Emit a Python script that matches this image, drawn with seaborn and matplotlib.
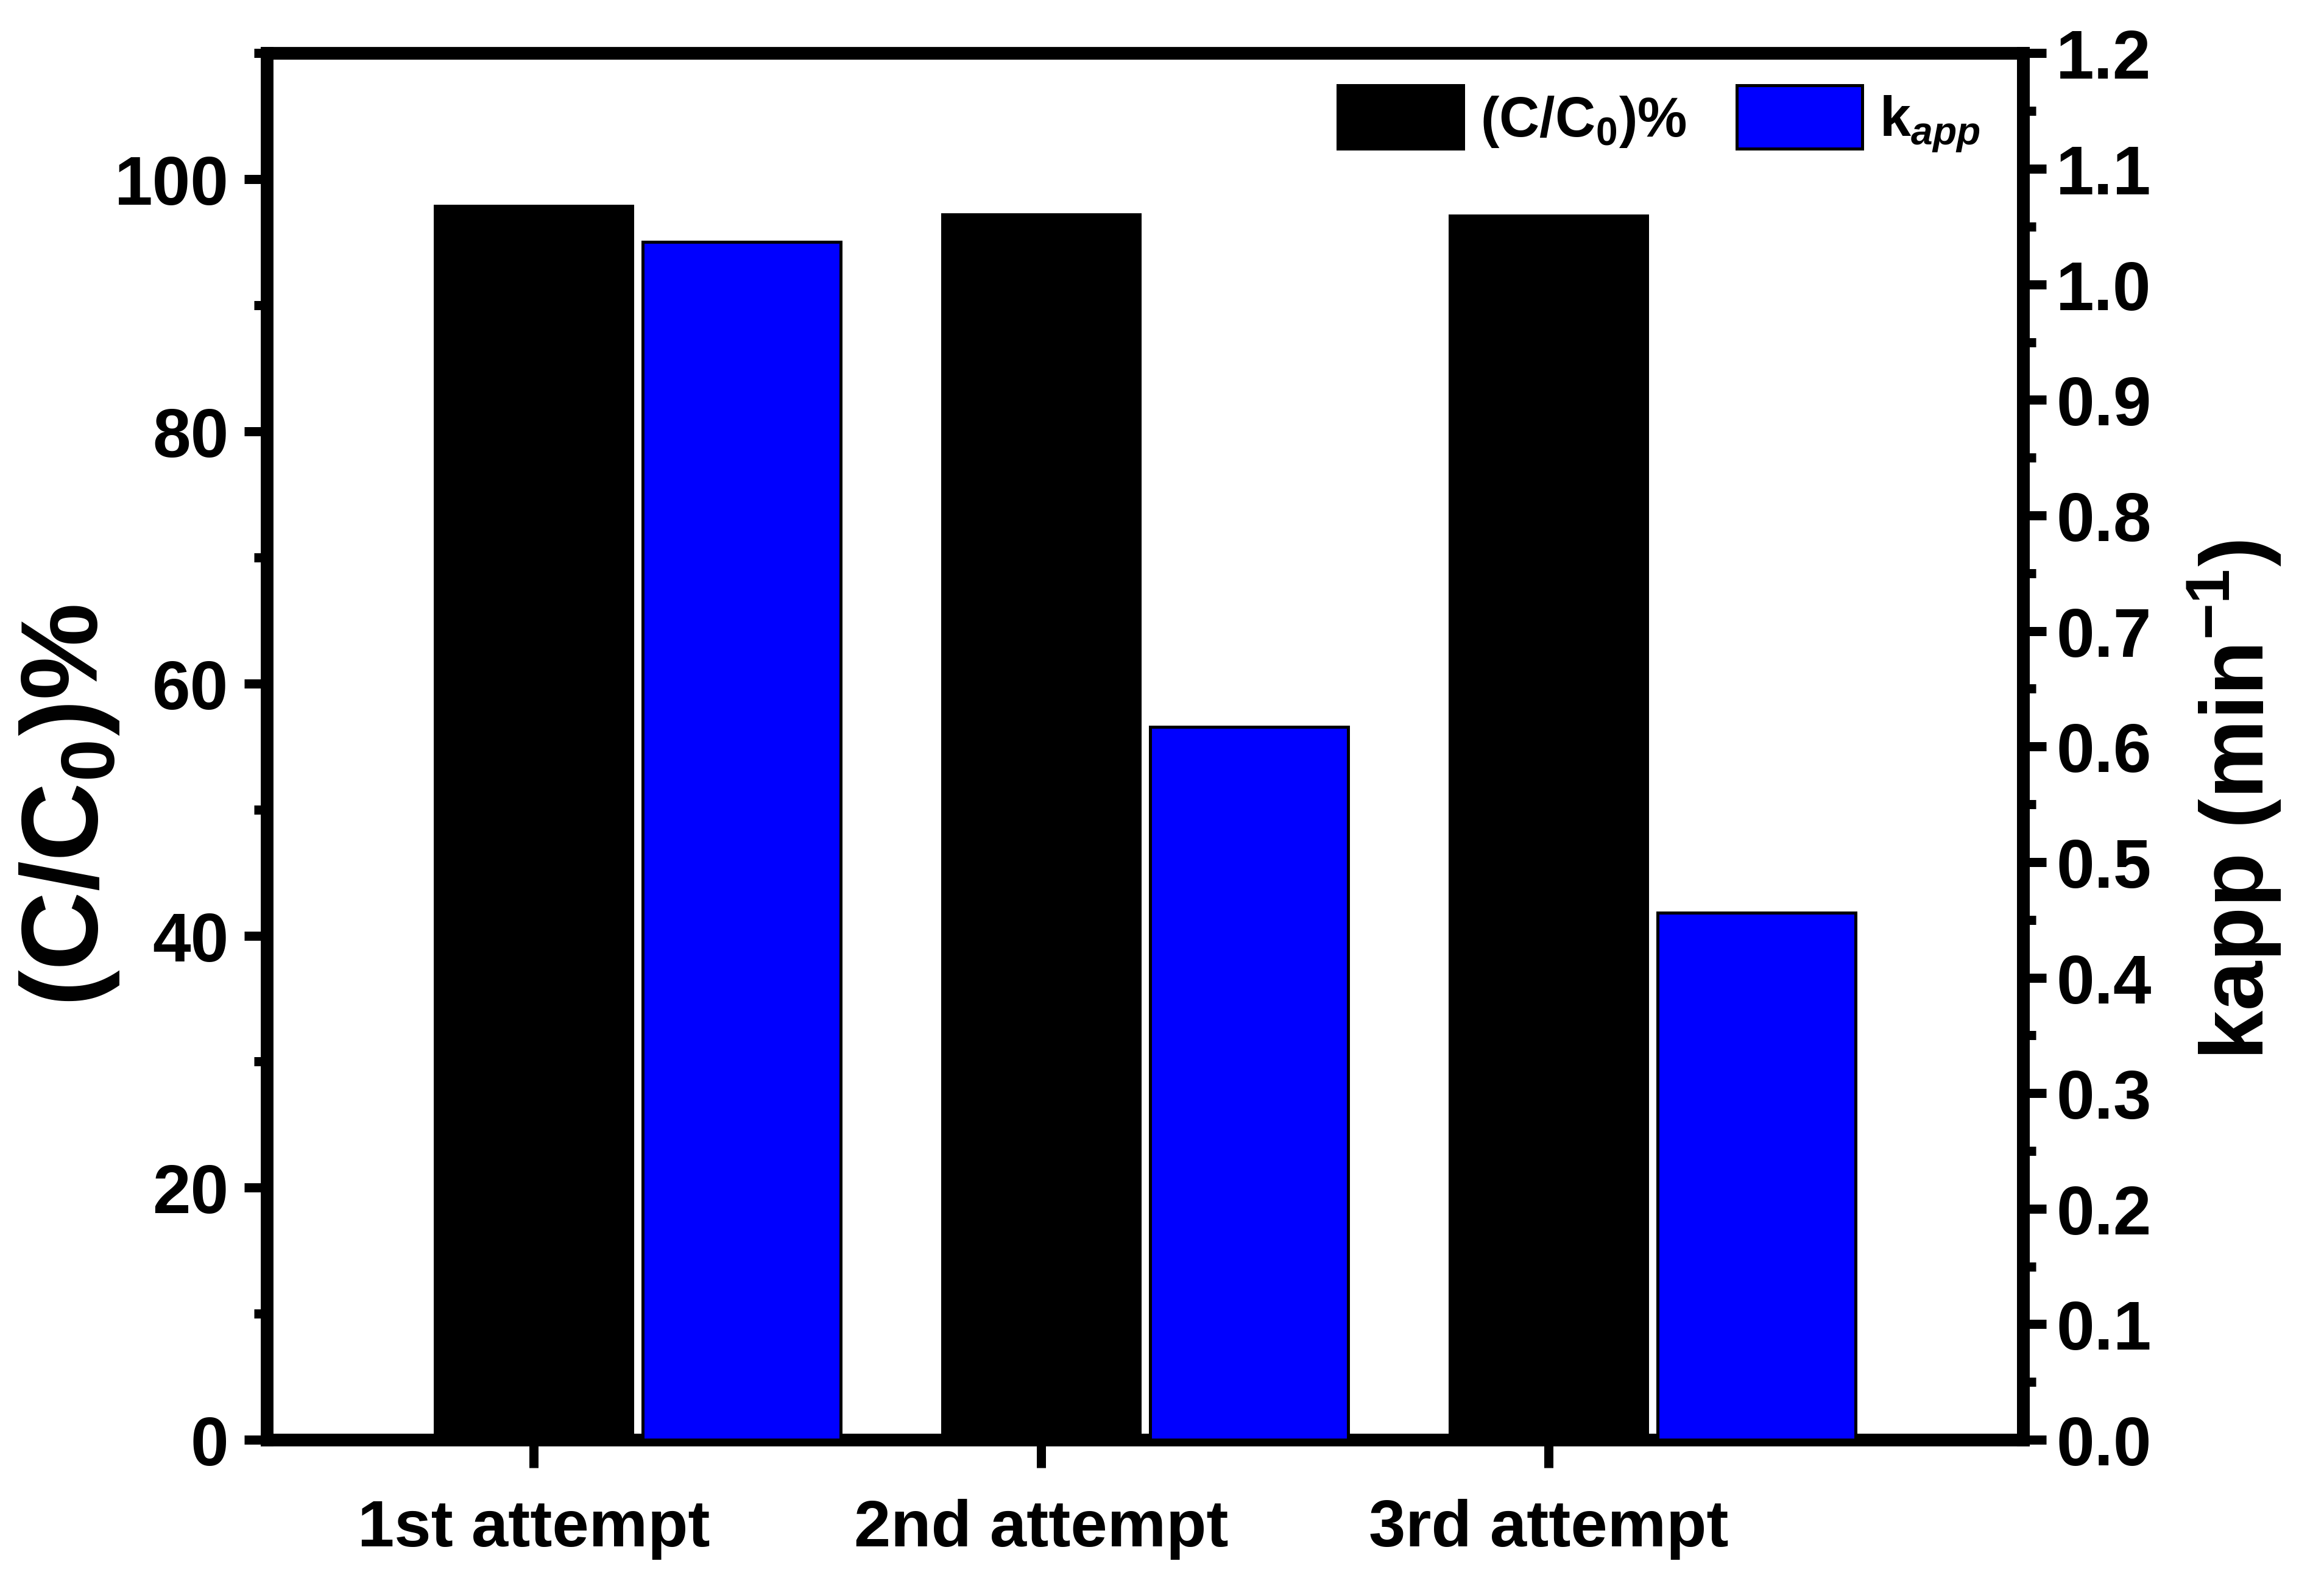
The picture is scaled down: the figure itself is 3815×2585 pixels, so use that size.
import numpy as np
import pandas as pd
import matplotlib
matplotlib.use('Agg')
import matplotlib.pyplot as plt
from matplotlib.ticker import MultipleLocator, FormatStrFormatter
import seaborn as sns

# values
attempts = ['1st attempt', '2nd attempt', '3rd attempt']
c_ratio = [97.9, 97.2, 97.1]      # (C/C0)%, left axis
k_app = [1.037, 0.617, 0.456]     # kapp (min-1), right axis

sns.set_style('ticks')
plt.rcParams['font.family'] = ['Liberation Sans', 'DejaVu Sans']
plt.rcParams['font.weight'] = 'bold'
plt.rcParams['text.color'] = 'black'
plt.rcParams['axes.labelcolor'] = 'black'
plt.rcParams['xtick.color'] = 'black'
plt.rcParams['ytick.color'] = 'black'
plt.rcParams['mathtext.fontset'] = 'custom'
plt.rcParams['mathtext.rm'] = 'Liberation Sans:bold'
plt.rcParams['mathtext.bf'] = 'Liberation Sans:bold'
plt.rcParams['mathtext.it'] = 'Liberation Sans:italic:bold'
plt.rcParams['mathtext.default'] = 'bf'

df = pd.DataFrame({
    'attempt': attempts * 2,
    'series': ['c'] * 3 + ['k'] * 3,
    'c': c_ratio + [np.nan] * 3,
    'k': [np.nan] * 3 + k_app,
})
colors = {'c': 'black', 'k': '#0000ff'}

fig = plt.figure(figsize=(3815 / 300, 2586 / 300), dpi=300)
ax = fig.add_axes([0.1148, 0.0858, 0.7557, 0.880])

sns.barplot(data=df, x='attempt', y='c', hue='series', hue_order=['c', 'k'],
            palette=colors, saturation=1, dodge=True, width=0.82, gap=0.05,
            errorbar=None, edgecolor='black', linewidth=1.2, legend=False, ax=ax)
ax2 = ax.twinx()
sns.barplot(data=df, x='attempt', y='k', hue='series', hue_order=['c', 'k'],
            palette=colors, saturation=1, dodge=True, width=0.82, gap=0.05,
            errorbar=None, edgecolor='black', linewidth=1.2, legend=False, ax=ax2)

# ticks sit under the black bars
centers = [p.get_x() + p.get_width() / 2 for p in ax.containers[0]]
ax.set_xticks(centers, attempts)
ax.set_xlim(centers[0] - 0.526, centers[0] + 2.935)

ax.set_ylim(0, 110)
ax.yaxis.set_major_locator(MultipleLocator(20))
ax.yaxis.set_minor_locator(MultipleLocator(10))
ax2.set_ylim(0, 1.2)
ax2.yaxis.set_major_locator(MultipleLocator(0.1))
ax2.yaxis.set_minor_locator(MultipleLocator(0.05))
ax2.yaxis.set_major_formatter(FormatStrFormatter('%.1f'))

ax.set_xlabel('')
ax.set_ylabel(r'(C/C$_\mathbf{0}$)%', fontsize=43, fontweight='bold')
ax.yaxis.set_label_coords(-0.083, 0.458)
ax2.set_ylabel(r'kapp (min$^{\mathbf{-1}}$)', fontsize=35, fontweight='bold')
ax2.yaxis.set_label_coords(1.093, 0.462)

for a in (ax, ax2):
    for s in a.spines.values():
        s.set_linewidth(5)
        s.set_color('black')
ax2.spines['left'].set_visible(False)
ax2.spines['top'].set_visible(False)
ax2.spines['bottom'].set_visible(False)

ax.tick_params(axis='y', which='major', direction='out', length=9, width=3.6, labelsize=27, pad=6)
ax.tick_params(axis='y', which='minor', direction='out', length=5, width=3.6)
ax.tick_params(axis='x', which='major', direction='out', length=11, width=3.6, labelsize=26, pad=12)
ax2.tick_params(axis='y', which='major', direction='out', length=9, width=3.6, labelsize=27, pad=4)
ax2.tick_params(axis='y', which='minor', direction='out', length=5, width=3.6)
for lbl in ax.get_xticklabels() + ax.get_yticklabels() + ax2.get_yticklabels():
    lbl.set_fontweight('bold')

handles = [ax.containers[0][0], ax2.containers[-1][0]]
labels = [r'(C/C$_\mathbf{0}$)%', r'k$_{\mathit{app}}$']
ax2.legend(handles, labels, loc='upper right', bbox_to_anchor=(0.982, 0.985), ncol=2,
           frameon=False, fontsize=22, handlelength=2.25, handleheight=1.37,
           handletextpad=0.3, columnspacing=0.9, borderaxespad=0, borderpad=0.2)

fig.savefig('out.png', dpi=300)
